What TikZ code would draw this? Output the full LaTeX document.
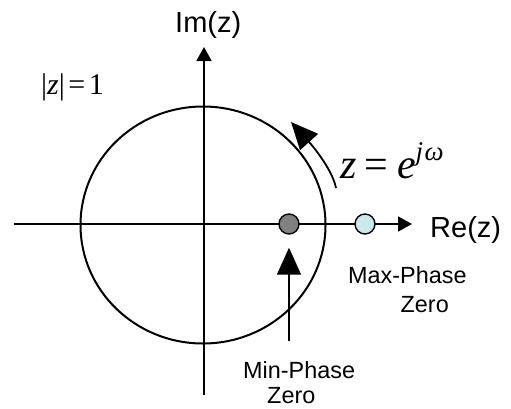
\documentclass[tikz,border=0pt]{standalone}
\usepackage{fontspec}
\setmainfont{Liberation Serif}
\newfontfamily\labelfont{Liberation Sans}
\usetikzlibrary{arrows.meta}
\definecolor{minzero}{RGB}{128,128,128}
\definecolor{maxzero}{RGB}{204,232,234}
\begin{document}
\begin{tikzpicture}[x=1pt,y=-1pt,
  axis/.style={line width=1.8pt,-{Triangle[length=14pt,width=15pt]}},
  bigarrow/.style={line width=1.8pt,-{Triangle[length=27pt,width=24pt]}},
  unitcircle/.style={line width=2pt},
  zerodot/.style={circle,draw,line width=1.4pt,minimum size=20pt,inner sep=0pt},
  biglbl/.style={inner sep=0pt,font=\labelfont\fontsize{29}{29}\selectfont},
  smalllbl/.style={inner sep=0pt,font=\labelfont\fontsize{23.4}{26}\selectfont},
  mathlbl/.style={inner sep=0pt},
]
\useasboundingbox (0,0) rectangle (511,408);
% unit circle
\draw[unitcircle] (203,225) ellipse [x radius=122.5pt, y radius=118.5pt];
% axes
\coordinate (reS) at (14,224);
\coordinate (reE) at (412,224);
\coordinate (imS) at (204,395);
\coordinate (imE) at (204,47);
\draw[axis] (reS) -- (reE);
\draw[axis] (imS) -- (imE);
% zeros
\node[zerodot,fill=minzero] (minz) at (289,224) {};
\node[zerodot,fill=maxzero] (maxz) at (365,224) {};
% arrow to min-phase zero
\coordinate (minA) at (289,341);
\draw[bigarrow,shorten >=13pt] (minA) -- (minz.south);
% rotation arrow
\coordinate (arcS) at (336,188);
\coordinate (arcT) at (291,122);
\draw[bigarrow] (arcS) .. controls (332,168) and (310,143) .. (arcT);
% labels
\node[biglbl,anchor=base west] (im) at (175,32) {Im(z)};
\node[biglbl,anchor=base west] (re) at (430,237) {Re(z)};
\node[smalllbl,anchor=base west] (maxl) at (348,283) {Max-Phase};
\node[smalllbl,anchor=base east] (maxl2) at (449,312) {Zero};
\node[smalllbl,anchor=base west] (minl) at (243,378) {Min-Phase};
\node[smalllbl,anchor=base west] (minl2) at (267,403) {Zero};
\node[mathlbl,anchor=base west] (unit) at (41,94)
  {\fontsize{30}{30}\selectfont |\textit{z}|\hspace{0.12em}=\hspace{0.12em}1};
\node[mathlbl,anchor=base west] (ejw) at (340,178)
  {\fontsize{42}{42}\selectfont \textit{z}\hspace{0.2em}=\hspace{0.2em}\textit{e}\raisebox{0.42em}{\fontsize{27}{27}\selectfont\textit{j\hspace{0.05em}ω}}};
\end{tikzpicture}
\end{document}
